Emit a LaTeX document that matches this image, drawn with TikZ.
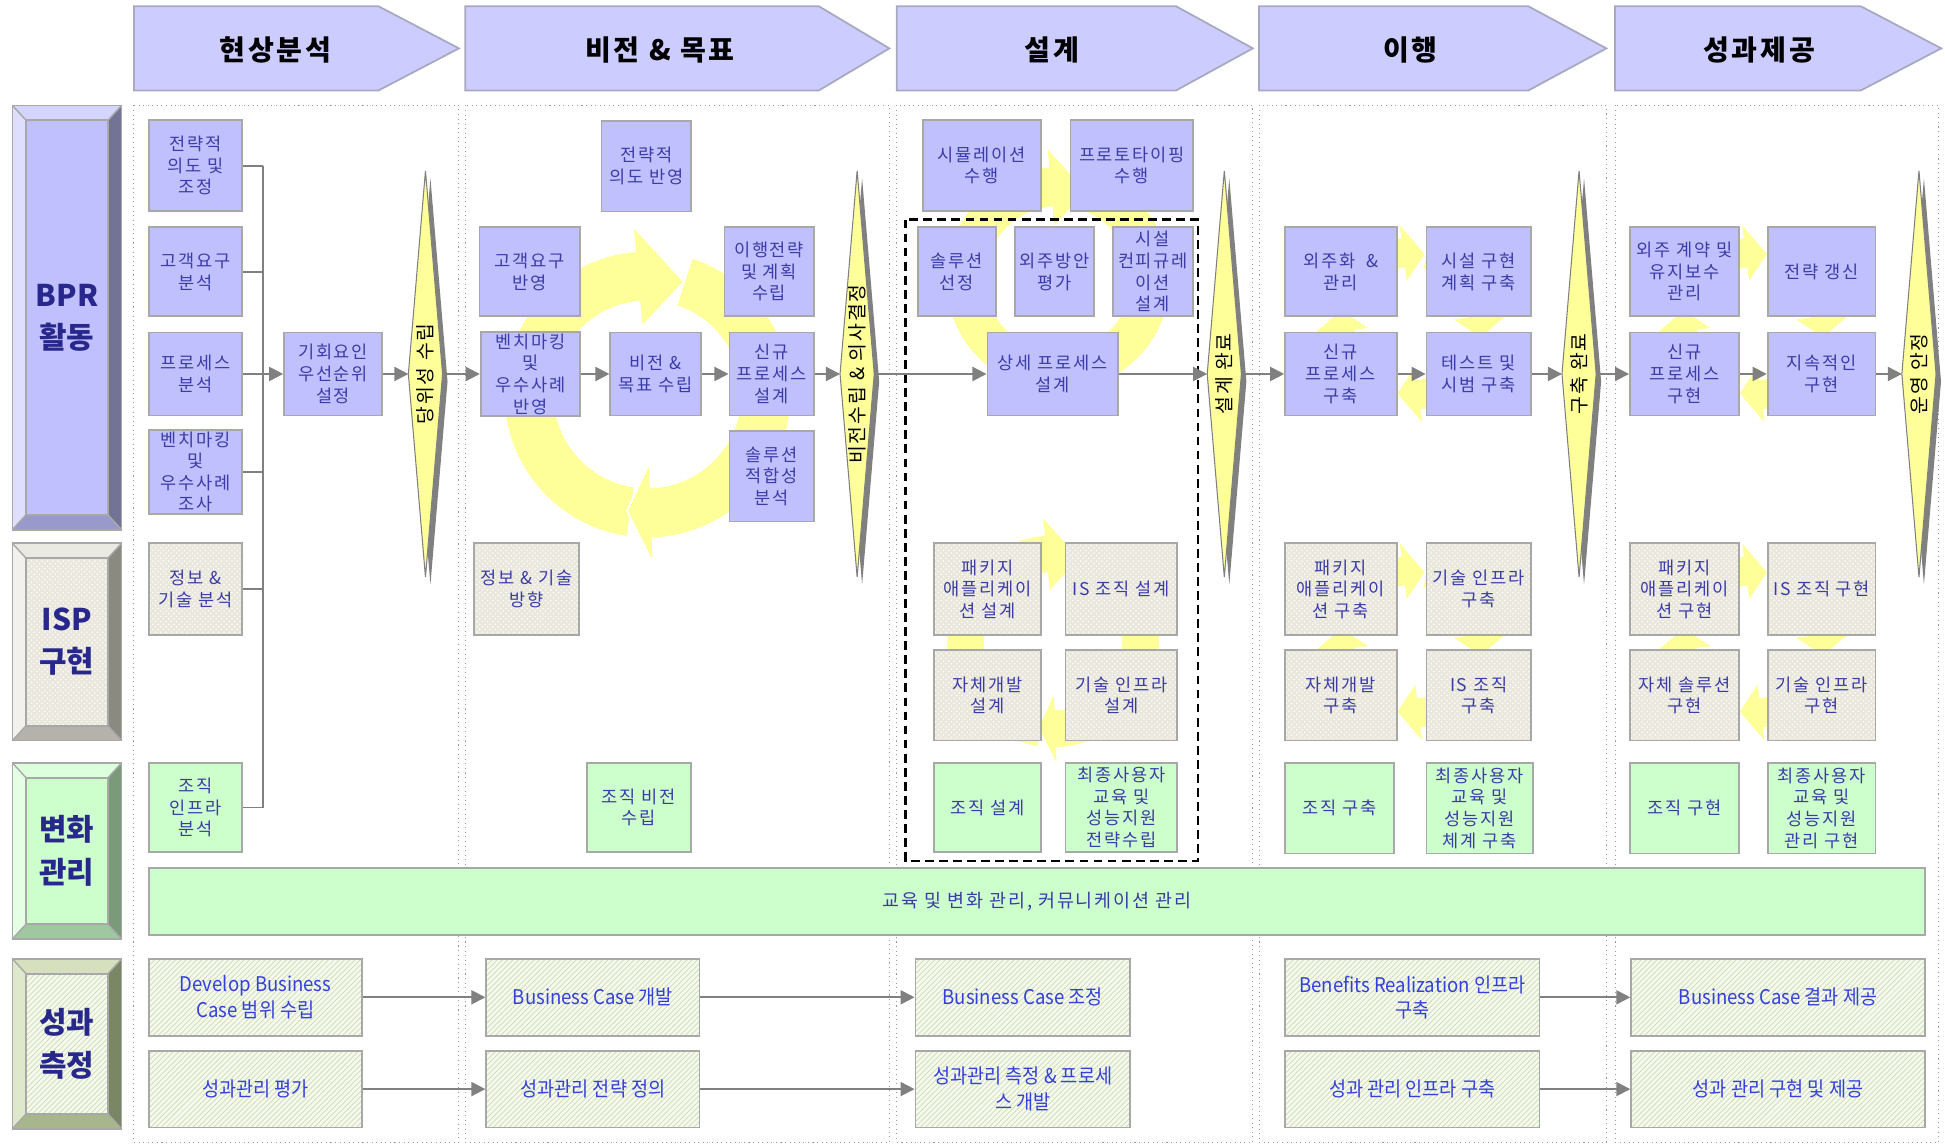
\documentclass[tikz,border=0pt]{standalone}
\usepackage{fontspec}
\setmainfont{Noto Sans CJK KR}[LetterSpace=10]
\newfontfamily\krplain{Noto Sans CJK KR}
\newfontfamily\krnarrow[FakeStretch=0.92]{Noto Sans CJK KR}
\usetikzlibrary{arrows.meta,patterns}

\definecolor{boxline}{RGB}{168,168,168}
\definecolor{boxtext}{RGB}{60,60,168}
\definecolor{lbltext}{RGB}{40,40,140}
\definecolor{kpitext}{RGB}{52,64,220}
\definecolor{linegray}{RGB}{128,128,128}
\definecolor{hdrfill}{RGB}{204,204,255}
\definecolor{hdrline}{RGB}{168,168,192}
\definecolor{bprface}{RGB}{192,192,255}
\definecolor{bprtop}{RGB}{212,212,255}
\definecolor{bprleft}{RGB}{222,222,255}
\definecolor{bprright}{RGB}{115,115,150}
\definecolor{bprbot}{RGB}{153,153,204}
\definecolor{ispbg}{RGB}{234,231,220}
\definecolor{isptop}{RGB}{234,233,226}
\definecolor{ispleft}{RGB}{242,241,235}
\definecolor{ispright}{RGB}{138,138,128}
\definecolor{ispbot}{RGB}{180,178,170}
\definecolor{chgface}{RGB}{204,255,204}
\definecolor{chgtop}{RGB}{220,255,220}
\definecolor{chgleft}{RGB}{228,255,228}
\definecolor{chgright}{RGB}{122,154,122}
\definecolor{chgbot}{RGB}{160,200,160}
\definecolor{kpibg}{RGB}{246,249,238}
\definecolor{kpiline}{RGB}{205,220,178}
\definecolor{kpitop}{RGB}{214,224,190}
\definecolor{kpileft}{RGB}{222,232,202}
\definecolor{kpiright}{RGB}{122,135,100}
\definecolor{kpibot}{RGB}{168,182,140}
\definecolor{ringyel}{RGB}{255,255,153}
\definecolor{dmdyel}{RGB}{255,255,153}

% bevelled frame of a row label
\newcommand{\bevel}[5]{%
  \fill[#5top] (#1,#2) -- (#3,#2) -- ({#3-11},{#2+12}) -- ({#1+11},{#2+12}) -- cycle;
  \fill[#5left] (#1,#2) -- ({#1+11},{#2+12}) -- ({#1+11},{#4-12}) -- (#1,#4) -- cycle;
  \fill[#5right] (#3,#2) -- (#3,#4) -- ({#3-11},{#4-12}) -- ({#3-11},{#2+12}) -- cycle;
  \fill[#5bot] (#1,#4) -- (#3,#4) -- ({#3-11},{#4-12}) -- ({#1+11},{#4-12}) -- cycle;
  \draw[boxline, line width=0.8pt] (#1,#2) -- ({#1+11},{#2+12}) (#3,#2) -- ({#3-11},{#2+12})
    (#1,#4) -- ({#1+11},{#4-12}) (#3,#4) -- ({#3-11},{#4-12});
  \draw[boxline, line width=1pt] (#1,#2) rectangle (#3,#4);}

% one piece of the yellow cycle: start angle, head base angle, tip angle, inner r, outer r
\newcommand{\ringseg}[5]{%
  \pgfmathsetmacro{\rmid}{(#4+#5)/2}%
  \pgfmathsetmacro{\rtop}{#5+(#5-#4)*0.5}%
  \pgfmathsetmacro{\rbot}{#4-(#5-#4)*0.5}%
  \filldraw[ring] (#1:#5) arc[start angle=#1, end angle=#2, radius=#5] -- (#2:\rtop)
    -- (#3:\rmid) -- (#2:\rbot) -- (#2:#4) arc[start angle=#2, end angle=#1, radius=#4] -- cycle;}

\begin{document}
\begin{tikzpicture}[x=0.024808cm, y=-0.024808cm,
  every node/.style={font=\fontsize{10}{12.3}\selectfont, text=boxtext, align=center, inner sep=1pt},
  sz/.style 2 args={minimum width=#1*0.024808cm, minimum height=#2*0.024808cm},
  bpr/.style={draw=boxline, line width=1pt, fill=bprface},
  isp/.style={draw=boxline, line width=1pt, preaction={fill=ispbg}, pattern=crosshatch dots, pattern color=white},
  chg/.style={draw=boxline, line width=1pt, fill=chgface},
  kpi/.style={draw=boxline, line width=1pt, preaction={fill=kpibg}, pattern=north east lines, pattern color=kpiline,
    text=kpitext, font=\krnarrow\fontsize{11.5}{14.5}\selectfont},
  lbl/.style={text=lbltext, font=\krplain\bfseries\fontsize{17}{24}\selectfont},
  hdr/.style={fill=hdrfill, draw=hdrline, line width=1pt},
  hdrtext/.style={text=black, font=\bfseries\fontsize{16}{20}\selectfont},
  colframe/.style={draw=gray!80, dotted, line width=0.6pt},
  ring/.style={fill=ringyel, draw=white, line width=1pt},
  dmd/.style={minimum width=27*0.024808cm, minimum height=327*0.024808cm, inner sep=0pt},
  dtext/.style={rotate=90, text=black, font=\fontsize{11}{12}\selectfont},
  link/.style={draw=linegray, line width=1.1pt},
  arr/.style={link, -{Triangle[length=8pt, width=8pt]}}]
\useasboundingbox (0,0) rectangle (1568,924);

% phase columns
\foreach \xa/\xb in {108/370, 375/717, 723/1010, 1015/1295, 1302/1563}
  \draw[colframe] (\xa,85) rectangle (\xb,921);

% phase headers
\foreach \xa/\xb/\xc in {108/305/370, 375/660/717, 723/948/1010, 1015/1232/1295, 1302/1500/1565}
  \filldraw[hdr] (\xa,5) -- (\xb,5) -- (\xc,39) -- (\xb,73) -- (\xa,73) -- cycle;
\node[hdrtext] (h1) at (222,40) {현상분석};
\node[hdrtext] (h2) at (532,40) {비전 \& 목표};
\node[hdrtext] (h3) at (848,40) {설계};
\node[hdrtext] (h4) at (1137,40) {이행};
\node[hdrtext] (h5) at (1418,40) {성과제공};

% row labels
\bevel{10}{85}{98}{427}{bpr}
\node[bpr, lbl, sz={66}{318}] (L1) at (54,256) {BPR\\활동};
\bevel{10}{438}{98}{597}{isp}
\node[isp, lbl, sz={66}{135}] (L2) at (54,517.5) {ISP\\구현};
\bevel{10}{615}{98}{757}{chg}
\node[chg, lbl, sz={66}{118}] (L3) at (54,686) {변화\\관리};
\bevel{10}{773}{98}{910}{kpi}
\node[kpi, lbl, sz={66}{113}] (L4) at (54,841.5) {성과\\측정};

% yellow cycles
\begin{scope}[shift={(522,318)}, yscale=-1]
  \ringseg{262}{95}{72}{75}{116}
  \ringseg{72}{-88}{-100}{75}{116}
\end{scope}
\begin{scope}[shift={(853,225)}, yscale=-1]
  \ringseg{262}{95}{72}{58}{91}
  \ringseg{72}{-88}{-100}{58}{91}
\end{scope}
\begin{scope}[shift={(849,517)}, yscale=-1]
  \ringseg{262}{95}{72}{55}{86}
  \ringseg{72}{-88}{-100}{55}{86}
\end{scope}
\foreach \cx/\cy in {1137.5/261, 1137.5/517.5, 1413.5/261, 1413.5/517.5}
  \begin{scope}[shift={(\cx,\cy)}, yscale=-1]
    \ringseg{168}{97}{78}{45}{70}
    \ringseg{78}{7}{-12}{45}{70}
    \ringseg{-12}{-83}{-102}{45}{70}
    \ringseg{-102}{-173}{-192}{45}{70}
  \end{scope};

% 현상분석
\node[bpr, sz={75}{73}] (a1) at (157.5,133.5) {전략적\\의도 및\\조정};
\node[bpr, sz={75}{72}] (a2) at (157.5,219) {고객요구\\분석};
\node[bpr, sz={75}{67}] (a3) at (157.5,301.5) {프로세스\\분석};
\node[bpr, sz={75}{65}] (a4) at (157.5,380.5) {벤치마킹\\및\\우수사례\\조사};
\node[isp, sz={75}{74}] (a5) at (157.5,475) {정보 \&\\기술 분석};
\node[chg, sz={75}{72}] (a6) at (157.5,651) {조직\\인프라\\분석};
\node[bpr, sz={79}{67}] (a7) at (268.5,301.5) {기회요인\\우선순위\\설정};
\coordinate (bus) at (212,301.5);
\foreach \n in {a1,a2,a3,a4,a5,a6}
  \draw[link] (\n.east) -- (\n.east -| bus);
\draw[link] (a1.east -| bus) -- (a6.east -| bus);
\draw[arr] (bus) -- (a7.west);

% 비전 & 목표
\node[bpr, sz={72}{73}] (b1) at (521,134) {전략적\\의도 반영};
\node[bpr, sz={81}{72}] (b2) at (427,219) {고객요구\\반영};
\node[bpr, sz={80}{67}] (b3) at (427.5,301.5) {벤치마킹\\및\\우수사례\\반영};
\node[bpr, sz={73}{67}] (b4) at (528.5,301.5) {비전 \&\\목표 수립};
\node[bpr, sz={72}{72}] (b5) at (620,219) {이행전략\\및 계획\\수립};
\node[bpr, sz={68}{67}] (b6) at (622,301.5) {신규\\프로세스\\설계};
\node[bpr, sz={68}{73}] (b7) at (622,384) {솔루션\\적합성\\분석};
\node[isp, sz={85}{74}] (b8) at (424.5,475) {정보 \& 기술\\방향};
\node[chg, sz={84}{72}] (b9) at (515,651) {조직 비전\\수립};

% 설계
\node[bpr, sz={95}{73}] (c1) at (791.5,133.5) {시뮬레이션\\수행};
\node[bpr, sz={99}{73}] (c2) at (912.5,133.5) {프로토타이핑\\수행};
\node[bpr, sz={63}{72}] (c3) at (771.5,219) {솔루션\\선정};
\node[bpr, sz={64}{72}] (c4) at (850,219) {외주방안\\평가};
\node[bpr, sz={65}{72}] (c5) at (929.5,219) {시설\\컨피규레\\이션\\설계};
\node[bpr, sz={105}{67}] (c6) at (848.5,301.5) {상세 프로세스\\설계};
\node[isp, sz={86}{74}] (c7) at (796,475) {패키지\\애플리케이\\션 설계};
\node[isp, sz={90}{74}] (c8) at (904,475) {IS 조직 설계};
\node[isp, sz={86}{73}] (c9) at (796,560.5) {자체개발\\설계};
\node[isp, sz={90}{73}] (c10) at (904,560.5) {기술 인프라\\설계};
\node[chg, sz={86}{72}] (c11) at (796,651) {조직 설계};
\node[chg, sz={90}{72}] (c12) at (904,651) {최종사용자\\교육 및\\성능지원\\전략수립};
\draw[line width=1.2pt, dash pattern=on 5pt off 3pt] (730,177) rectangle (966,694);

% 이행
\node[bpr, sz={90}{72}] (e1) at (1081,219) {외주화 \ \&\\관리};
\node[bpr, sz={84}{72}] (e2) at (1192,219) {시설 구현\\계획 구축};
\node[bpr, sz={90}{67}] (e3) at (1081,301.5) {신규\\프로세스\\구축};
\node[bpr, sz={84}{67}] (e4) at (1192,301.5) {테스트 및\\시범 구축};
\node[isp, sz={90}{74}] (e5) at (1081,475) {패키지\\애플리케이\\션 구축};
\node[isp, sz={84}{74}] (e6) at (1192,475) {기술 인프라\\구축};
\node[isp, sz={90}{73}] (e7) at (1081,560.5) {자체개발\\구축};
\node[isp, sz={84}{73}] (e8) at (1192,560.5) {IS 조직\\구축};
\node[chg, sz={88}{73}] (e9) at (1080,651.5) {조직 구축};
\node[chg, sz={86}{73}] (e10) at (1193,651.5) {최종사용자\\교육 및\\성능지원\\체계 구축};

% 성과제공
\node[bpr, sz={88}{72}] (f1) at (1358,219) {외주 계약 및\\유지보수\\관리};
\node[bpr, sz={87}{72}] (f2) at (1468.5,219) {전략 갱신};
\node[bpr, sz={88}{67}] (f3) at (1358,301.5) {신규\\프로세스\\구현};
\node[bpr, sz={87}{67}] (f4) at (1468.5,301.5) {지속적인\\구현};
\node[isp, sz={88}{74}] (f5) at (1358,475) {패키지\\애플리케이\\션 구현};
\node[isp, sz={87}{74}] (f6) at (1468.5,475) {IS 조직 구현};
\node[isp, sz={88}{73}] (f7) at (1358,560.5) {자체 솔루션\\구현};
\node[isp, sz={87}{73}] (f8) at (1468.5,560.5) {기술 인프라\\구현};
\node[chg, sz={88}{73}] (f9) at (1358,651.5) {조직 구현};
\node[chg, sz={87}{73}] (f10) at (1468.5,651.5) {최종사용자\\교육 및\\성능지원\\관리 구현};

% change management bar
\node[chg, sz={1432}{54}, font=\fontsize{10.5}{12}\selectfont] (bar) at (836,727) {교육 및 변화 관리, 커뮤니케이션 관리};

% milestones
\node[dmd] (d1) at (343,301.5) {};
\node[dmd] (d2) at (691,301.5) {};
\node[dmd] (d3) at (987,301.5) {};
\node[dmd] (d4) at (1273,301.5) {};
\node[dmd] (d5) at (1547,301.5) {};
\foreach \d in {d1,d2,d3,d4,d5} {
  \fill[linegray] ([shift={(4,6)}]\d.north) -- ([shift={(4,6)}]\d.east)
    -- ([shift={(4,6)}]\d.south) -- ([shift={(4,6)}]\d.west) -- cycle;
  \filldraw[fill=dmdyel, draw=linegray, line width=0.6pt] (\d.north) -- (\d.east) -- (\d.south) -- (\d.west) -- cycle;
}
\node[dtext] (t1) at (d1) {당위성 수립};
\node[dtext] (t2) at (d2) {비전수립 \& 의사결정};
\node[dtext] (t3) at (d3) {설계 완료};
\node[dtext] (t4) at (d4) {구축 완료};
\node[dtext] (t5) at (d5) {운영 안정};

% main flow
\draw[arr] (a7) -- (d1.west);
\draw[arr] (d1.east) -- (b3.west);
\draw[arr] (b3) -- (b4);
\draw[arr] (b4) -- (b6);
\draw[arr] (b6) -- (d2.west);
\draw[arr] (d2.east) -- (c6.west);
\draw[arr] (c6) -- (d3.west);
\draw[arr] (d3.east) -- (e3.west);
\draw[arr] (e3) -- (e4);
\draw[arr] (e4) -- (d4.west);
\draw[arr] (d4.east) -- (f3.west);
\draw[arr] (f3) -- (f4);
\draw[arr] (f4) -- (d5.west);

% 성과 측정
\node[kpi, sz={172}{62}] (g1) at (206,804) {Develop Business\\Case 범위 수립};
\node[kpi, sz={172}{62}] (g2) at (206,878) {성과관리 평가};
\node[kpi, sz={172}{62}] (g3) at (478,804) {Business Case 개발};
\node[kpi, sz={172}{62}] (g4) at (478,878) {성과관리 전략 정의};
\node[kpi, sz={173}{62}] (g5) at (824.5,804) {Business Case 조정};
\node[kpi, sz={173}{62}] (g6) at (824.5,878) {성과관리 측정 \& 프로세\\스 개발};
\node[kpi, sz={205}{62}] (g7) at (1138.5,804) {Benefits Realization 인프라\\구축};
\node[kpi, sz={205}{62}] (g8) at (1138.5,878) {성과 관리 인프라 구축};
\node[kpi, sz={237}{62}] (g9) at (1433.5,804) {Business Case 결과 제공};
\node[kpi, sz={237}{62}] (g10) at (1433.5,878) {성과 관리 구현 및 제공};
\draw[arr] (g1) -- (g3);
\draw[arr] (g3) -- (g5);
\draw[arr] (g2) -- (g4);
\draw[arr] (g4) -- (g6);
\draw[arr] (g7) -- (g9);
\draw[arr] (g8) -- (g10);
\end{tikzpicture}
\end{document}
